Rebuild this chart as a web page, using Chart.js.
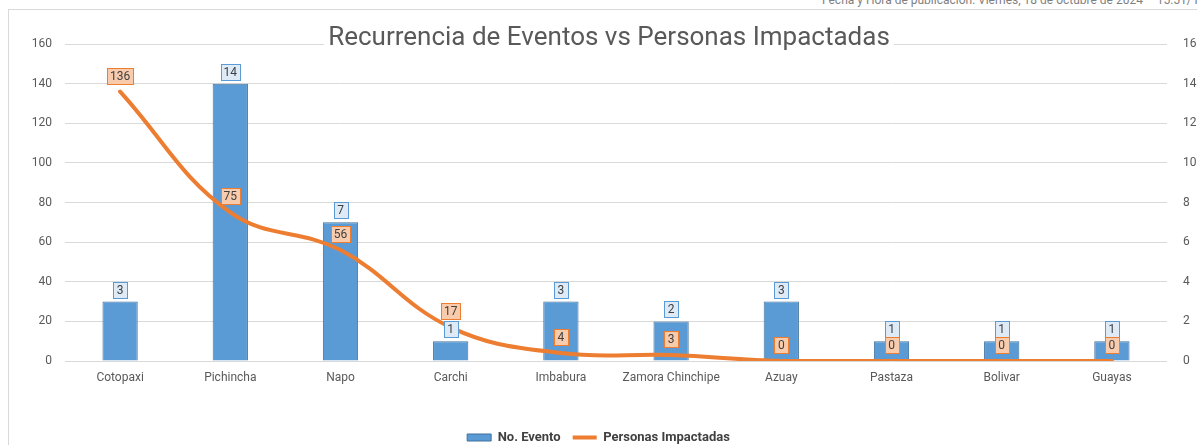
<!DOCTYPE html>
<html>
<head>
<meta charset="utf-8">
<script src="https://cdn.jsdelivr.net/npm/chart.js@4.4.1/dist/chart.umd.min.js"></script>
<style>
    html, body { margin: 0; padding: 0; background: #fff; overflow: hidden; }
    body { width: 1197px; height: 445px; position: relative; }
    #pubInfo {
        position: absolute; top: -7px; left: 822px; white-space: nowrap;
        font-family: "Liberation Sans Narrow", "Roboto", sans-serif; font-size: 12px; color: #7f7f7f;
    }
    #frame {
        position: absolute; left: 8px; top: 9px; width: 1300px; height: 600px;
        border: 1px solid #d9d9d9;
    }
    #chartBox { position: absolute; left: 0; top: 0; }
</style>
</head>
<body>
<div id="pubInfo">Fecha y Hora de publicación: Viernes, 18 de octubre de 2024 – 15:51/ Pastaza</div>
<div id="frame"></div>
<div id="chartBox"><canvas id="chart" width="1197" height="445"></canvas></div>

<script>
// ==================== DATA ====================

const chartTitle = 'Recurrencia de Eventos vs Personas Impactadas';
const provincias = ['Cotopaxi', 'Pichincha', 'Napo', 'Carchi', 'Imbabura', 'Zamora Chinchipe', 'Azuay', 'Pastaza', 'Bolivar', 'Guayas'];
const noEvento = [3, 14, 7, 1, 3, 2, 3, 1, 1, 1];
const personasImpactadas = [136, 75, 56, 17, 4, 3, 0, 0, 0, 0];

// axis ranges (left: personas, right: eventos)
const leftMax = 160, leftStep = 20;
const rightMax = 16, rightStep = 2;

// ==================== PLUGINS ====================

const FONT = 'Roboto, "Noto Sans", sans-serif';

// boxed value labels like the Excel data labels
const valueLabels = {
    id: 'valueLabels',
    afterDatasetsDraw(chart) {
        const ctx = chart.ctx;
        ctx.save();
        ctx.font = '12px ' + FONT;
        ctx.textAlign = 'center';
        ctx.textBaseline = 'middle';

        const drawBox = (text, x, y, fill, stroke) => {
            const w = Math.max(ctx.measureText(text).width + 6, 14);
            const h = 16;
            ctx.fillStyle = fill;
            ctx.fillRect(Math.round(x - w / 2) + 0.5, Math.round(y - h / 2) + 0.5, Math.round(w), h);
            ctx.strokeStyle = stroke;
            ctx.lineWidth = 1;
            ctx.strokeRect(Math.round(x - w / 2) + 0.5, Math.round(y - h / 2) + 0.5, Math.round(w), h);
            ctx.fillStyle = '#404040';
            ctx.fillText(text, x, y + 1);
        };

        chart.data.datasets.forEach((ds, i) => {
            const meta = chart.getDatasetMeta(i);
            meta.data.forEach((el, j) => {
                const text = String(ds.data[j]);
                if (ds.type === 'bar') {
                    drawBox(text, el.x, el.y - 12, '#deebf7', '#5b9bd5');
                } else {
                    drawBox(text, el.x, el.y - 16, '#f8cbad', '#ed7d31');
                }
            });
        });
        ctx.restore();
    }
};

// title sitting on the top gridline with a white background
const titleOnGrid = {
    id: 'titleOnGrid',
    afterDraw(chart) {
        const ctx = chart.ctx;
        const area = chart.chartArea;
        ctx.save();
        ctx.font = '26px ' + FONT;
        ctx.textAlign = 'center';
        ctx.textBaseline = 'alphabetic';
        const cx = (area.left + area.right) / 2 - 7;
        const w = ctx.measureText(chartTitle).width;
        ctx.fillStyle = '#ffffff';
        ctx.fillRect(cx - w / 2 - 4, area.top - 24, w + 8, 26);
        ctx.fillStyle = '#595959';
        ctx.fillText(chartTitle, cx, area.top + 1);
        ctx.restore();
    }
};

// ==================== CHART ====================

const ctx = document.getElementById('chart').getContext('2d');
const chart = new Chart(ctx, {
    data: {
        labels: provincias,
        datasets: [
            {
                type: 'bar',
                label: 'No. Evento',
                data: noEvento,
                yAxisID: 'y1',
                backgroundColor: '#5b9bd5',
                borderColor: '#41719c',
                borderWidth: 1,
                categoryPercentage: 1,
                barPercentage: 0.32,
                order: 1
            },
            {
                type: 'line',
                label: 'Personas Impactadas',
                data: personasImpactadas,
                yAxisID: 'y',
                borderColor: '#ed7d31',
                backgroundColor: '#ed7d31',
                borderWidth: 4,
                borderCapStyle: 'round',
                tension: 0.4,
                pointRadius: 0,
                fill: false,
                order: 0
            }
        ]
    },
    options: {
        responsive: false,
        animation: false,
        layout: {
            padding: { left: 0, right: 0, top: 44, bottom: -9 }
        },
        plugins: {
            legend: {
                position: 'bottom',
                labels: {
                    usePointStyle: true,
                    pointStyleWidth: 24,
                    boxHeight: 7,
                    padding: 12,
                    color: '#404040',
                    font: { family: FONT, size: 13, weight: 'bold' },
                    sort: (a, b) => a.datasetIndex - b.datasetIndex,
                    generateLabels(chart) {
                        const items = Chart.defaults.plugins.legend.labels.generateLabels(chart);
                        items.forEach(item => {
                            const ds = chart.data.datasets[item.datasetIndex];
                            item.pointStyle = ds.type === 'bar' ? 'rect' : 'line';
                            if (ds.type === 'bar') item.lineWidth = 1;
                        });
                        return items;
                    }
                }
            },
            tooltip: { enabled: false }
        },
        scales: {
            x: {
                offset: true,
                grid: { display: false, drawTicks: false },
                border: { display: false },
                ticks: {
                    color: '#595959',
                    padding: 10,
                    font: { family: FONT, size: 12 },
                    maxRotation: 0,
                    autoSkip: false
                },
                afterFit: (scale) => { scale.height = 58; }
            },
            y: {
                position: 'left',
                min: 0,
                max: leftMax,
                ticks: {
                    stepSize: leftStep,
                    color: '#595959',
                    padding: 13,
                    font: { family: FONT, size: 12 }
                },
                grid: { color: '#d9d9d9', drawTicks: false },
                border: { display: false },
                afterFit: (scale) => { scale.width = 65; }
            },
            y1: {
                position: 'right',
                min: 0,
                max: rightMax,
                ticks: {
                    stepSize: rightStep,
                    color: '#595959',
                    padding: 16,
                    font: { family: FONT, size: 12 }
                },
                grid: { drawOnChartArea: false, drawTicks: false },
                border: { display: false },
                afterFit: (scale) => { scale.width = 30; }
            }
        }
    },
    plugins: [valueLabels, titleOnGrid]
});

console.log('chartArea', JSON.stringify(chart.chartArea), 'legend', chart.legend.top, chart.legend.height);
</script>
</body>
</html>
